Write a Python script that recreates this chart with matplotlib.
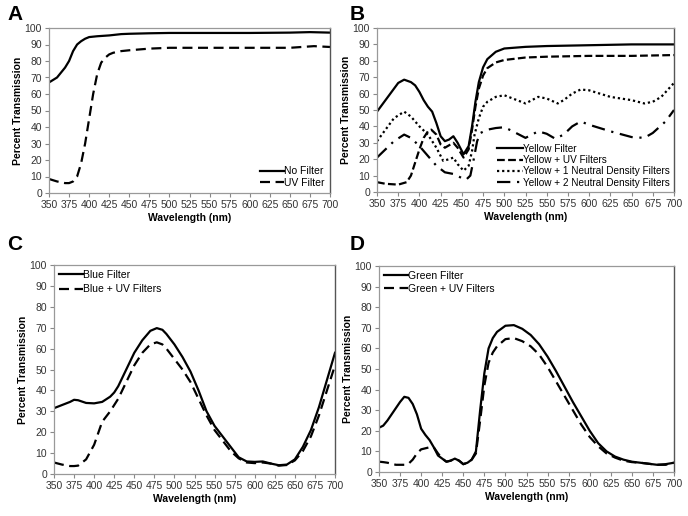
import matplotlib
matplotlib.use("Agg")
import matplotlib.pyplot as plt
import numpy as np

plt.rcParams['font.family'] = ['Liberation Sans', 'DejaVu Sans']

# ---------------- Data ----------------
# Panel A
a_wl_nofilter = [350, 355, 360, 365, 370, 375, 380, 385, 390, 395, 400, 410, 425, 440, 450, 475, 500, 550, 600, 650, 675, 700]
a_nofilter    = [67, 68.5, 70, 73, 76, 80, 86, 90, 92, 93.5, 94.5, 95, 95.5, 96.3, 96.5, 96.8, 97, 97, 97, 97.2, 97.5, 97.2]
a_wl_uv = [350, 360, 370, 375, 380, 385, 390, 395, 400, 405, 410, 415, 420, 425, 430, 440, 450, 475, 500, 550, 600, 650, 680, 700]
a_uv    = [8.5, 7, 6, 6, 7, 10, 18, 30, 45, 60, 72, 79, 82, 84, 85, 86, 86.5, 87.5, 88, 88, 88, 88, 89, 88.5]

# Panel B
b_wl_y = [350, 360, 370, 375, 382, 390, 395, 400, 405, 410, 415, 420, 425, 430, 435, 440, 445, 452, 458, 462, 466, 470, 475, 480, 490, 500, 525, 550, 600, 650, 700]
b_yellow = [49, 56, 63, 66.5, 68.5, 67, 65, 61, 56, 52, 49, 42, 34, 31, 32, 34, 30, 23, 28, 40, 55, 67, 76, 81, 85.5, 87.5, 88.5, 89, 89.5, 90, 90]
b_wl_yuv = [350, 360, 375, 385, 390, 395, 400, 405, 410, 414, 420, 425, 430, 440, 445, 452, 458, 462, 466, 470, 475, 480, 490, 500, 525, 550, 600, 650, 700]
b_yellow_uv = [6, 5, 4.5, 6, 10, 18, 26, 33, 37, 38, 35, 29, 27, 30, 27, 21, 26, 38, 52, 63, 71, 75.5, 79, 80.5, 82, 82.5, 83, 83, 83.5]
b_wl_nd1 = [350, 360, 370, 382, 390, 400, 410, 420, 428, 435, 440, 445, 452, 458, 462, 465, 470, 475, 480, 490, 500, 510, 525, 540, 550, 563, 570, 580, 590, 600, 625, 650, 665, 675, 685, 700]
b_nd1 = [31, 38, 45, 49, 46, 40, 35, 27, 19, 20, 21, 17, 13, 16, 25, 35, 45, 52, 55, 58, 59, 57, 54, 58, 57, 54, 56, 60, 62.5, 62, 58, 56, 54, 55, 58, 66.5]
b_wl_nd2 = [350, 360, 370, 382, 390, 400, 410, 420, 430, 440, 450, 455, 460, 464, 468, 472, 480, 490, 500, 510, 525, 540, 550, 560, 570, 580, 590, 600, 625, 650, 665, 675, 690, 700]
b_nd2 = [21, 26, 31, 35, 33, 28, 22, 16, 12, 11, 8.5, 7.5, 10, 20, 31, 36, 38, 39, 39.5, 37, 33, 37, 35.5, 32.5, 35, 40, 43, 41, 37, 33.5, 33, 36, 43, 50]

# Panel C
c_wl = [350, 360, 370, 375, 380, 390, 400, 410, 420, 425, 430, 440, 450, 460, 470, 478, 485, 490, 500, 510, 520, 530, 540, 550, 560, 570, 580, 590, 600, 610, 620, 630, 640, 650, 660, 670, 680, 690, 700]
c_blue = [31.5, 33, 34.5, 35.5, 35.3, 34, 33.8, 34.5, 37, 39, 42, 50, 58, 64, 68.5, 69.8, 69, 67, 62, 56, 49, 40, 30, 23, 18, 13, 8, 6, 5.8, 6, 5, 4.2, 4.5, 7, 13, 21, 32, 45, 58]
c_blue_uv = [5.5, 4.5, 3.8, 3.8, 4, 7, 14, 25, 30, 33, 36, 44, 52, 58, 62, 63, 62, 60, 55, 50, 44, 36, 28, 21, 16, 11, 7.5, 5.5, 5.2, 5.5, 5, 4, 4.3, 6.5, 11, 18, 28, 40, 52]

# Panel D
d_wl = [350, 355, 360, 370, 375, 380, 385, 390, 395, 400, 405, 410, 415, 420, 425, 430, 435, 440, 445, 450, 455, 460, 465, 470, 475, 480, 485, 490, 500, 510, 520, 530, 540, 550, 560, 570, 580, 590, 600, 610, 620, 630, 640, 650, 660, 670, 680, 690, 700]
d_green = [21.5, 22.5, 25, 31, 34, 36.5, 36, 33, 28, 21, 18, 15.5, 12, 8, 6.5, 5, 5.5, 6.5, 5.5, 3.8, 4.5, 6, 10, 30, 48, 60, 65, 68, 71, 71.3, 69.5, 66.5, 62, 56, 49, 41.5, 34, 27, 20, 14, 10, 7.5, 6, 5, 4.5, 4, 3.5, 3.8, 4.5]
d_green_uv = [5, 4.8, 4.5, 3.5, 3.5, 3.5, 4, 6, 9, 11, 11.5, 12, 12, 9, 6.5, 5, 5.5, 6.5, 5.5, 3.8, 4.5, 6, 9, 25, 42, 53, 58, 61, 64.5, 65, 63.5, 61, 57, 51, 44, 37, 30, 23, 17, 12.5, 9, 7, 5.5, 4.8, 4.5, 4, 3.5, 3.5, 4.5]

xticks = list(range(350, 701, 25))
yticks = list(range(0, 101, 10))

W, H = 688, 516
fig = plt.figure(figsize=(W / 100, H / 100), dpi=100)


def make_ax(left, right, top, bottom):
    ax = fig.add_axes([left / W, (H - bottom) / H, (right - left) / W, (bottom - top) / H])
    ax.set_xlim(350, 700)
    ax.set_ylim(0, 100)
    ax.set_xticks(xticks)
    ax.set_yticks(yticks)
    ax.tick_params(axis='both', direction='out', length=3, width=0.8, color='#888888',
                   labelsize=7.5, labelcolor='#333333', pad=2)
    for s in ['left', 'bottom', 'top']:
        ax.spines[s].set_color('#999999')
        ax.spines[s].set_linewidth(0.9)
    ax.spines['right'].set_color('#555555')
    ax.spines['right'].set_linewidth(1.0)
    ax.set_xlabel('Wavelength (nm)', fontsize=7.5, fontweight='bold', labelpad=2)
    ax.set_ylabel('Percent Transmission', fontsize=7.5, fontweight='bold', labelpad=1)
    return ax


lw = 1.6
dash = (0, (4.5, 2.5))
leg_kw = dict(frameon=False, fontsize=7.5, handlelength=2.3, handletextpad=0.0)

# Panel A
axA = make_ax(49, 330, 28, 193)
axA.plot(a_wl_nofilter, a_nofilter, color='black', lw=lw, label='No Filter')
axA.plot(a_wl_uv, a_uv, color='black', lw=lw, linestyle=dash, label='UV Filter')
axA.legend(loc='lower right', labelspacing=0.15, borderaxespad=0.1, **leg_kw)

# Panel B
axB = make_ax(377, 674, 28, 192)
axB.plot(b_wl_y, b_yellow, color='black', lw=lw, label='Yellow Filter')
axB.plot(b_wl_yuv, b_yellow_uv, color='black', lw=lw, linestyle=(0, (3.5, 1.5)), label='Yellow + UV Filters')
axB.plot(b_wl_nd1, b_nd1, color='black', lw=lw, linestyle=(0, (1, 1.3)), label='Yellow + 1 Neutral Density Filters')
axB.plot(b_wl_nd2, b_nd2, color='black', lw=lw, linestyle=(0, (6, 3, 1, 3)), label='Yellow + 2 Neutral Density Filters')
axB.legend(loc='lower right', labelspacing=0.12, borderaxespad=0.05,
           frameon=False, fontsize=7.2, handlelength=2.6, handletextpad=0.0)

# Panel C
axC = make_ax(54, 335, 265, 474)
axC.plot(c_wl, c_blue, color='black', lw=lw, label='Blue Filter')
axC.plot(c_wl, c_blue_uv, color='black', lw=lw, linestyle=dash, label='Blue + UV Filters')
axC.legend(loc='upper left', labelspacing=0.45, borderaxespad=0.05, **leg_kw)

# Panel D
axD = make_ax(379, 674, 266, 472)
axD.plot(d_wl, d_green, color='black', lw=lw, label='Green Filter')
axD.plot(d_wl, d_green_uv, color='black', lw=lw, linestyle=dash, label='Green + UV Filters')
axD.legend(loc='upper left', labelspacing=0.3, borderaxespad=0.05, **leg_kw)

# Panel letters
for letter, (px, py) in zip('ABCD', [(7, 14), (350, 14), (7, 244), (350, 245)]):
    fig.text(px / W, 1 - py / H, letter, fontsize=15, fontweight='bold', va='center', ha='left')

fig.savefig('out.png', dpi=100, facecolor='white')
